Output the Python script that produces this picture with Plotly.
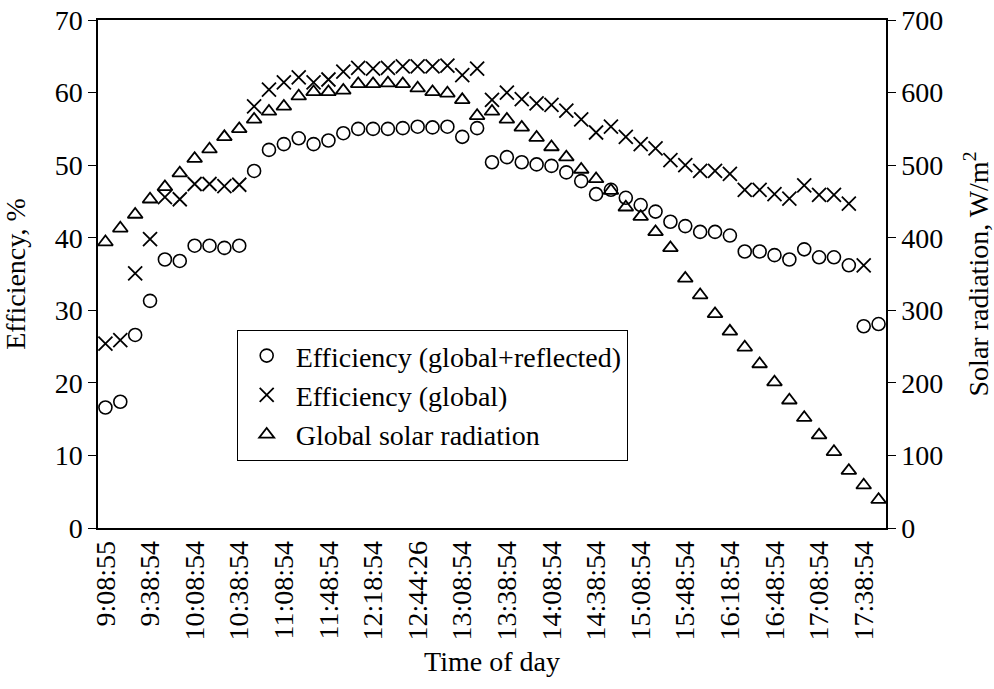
import plotly.graph_objects as go

# Tick labels shown on the category axis (every third sample)
tick_labels = ["9:08:55", "9:38:54", "10:08:54", "10:38:54", "11:08:54", "11:48:54",
               "12:18:54", "12:44:26", "13:08:54", "13:38:54", "14:08:54", "14:38:54",
               "15:08:54", "15:48:54", "16:18:54", "16:48:54", "17:08:54", "17:38:54"]

# Efficiency (global+reflected), %
eff_global_reflected = [16.6, 17.4, 26.6, 31.3, 37.0, 36.8, 38.9, 38.9, 38.6, 38.9,
                        49.2, 52.1, 52.9, 53.7, 52.9, 53.4, 54.4, 55.0, 55.0, 55.0,
                        55.1, 55.3, 55.2, 55.3, 53.9, 55.1, 50.4, 51.1, 50.4, 50.1,
                        49.9, 49.0, 47.8, 46.0, 46.6, 45.5, 44.5, 43.6, 42.2, 41.6,
                        40.8, 40.8, 40.3, 38.1, 38.1, 37.6, 37.0, 38.4, 37.3, 37.3,
                        36.2, 27.8, 28.1]

# Efficiency (global), %
eff_global = [25.4, 25.9, 35.1, 39.8, 45.6, 45.3, 47.4, 47.4, 47.1, 47.3,
              58.1, 60.4, 61.4, 62.1, 61.4, 61.8, 62.9, 63.4, 63.3, 63.4,
              63.6, 63.6, 63.6, 63.7, 62.4, 63.3, 59.0, 60.0, 59.1, 58.5,
              58.3, 57.5, 56.3, 54.5, 55.3, 53.9, 52.9, 52.3, 50.7, 50.0,
              49.2, 49.2, 48.8, 46.6, 46.6, 46.0, 45.4, 47.2, 45.9, 45.9,
              44.7, 36.2, None]

# Global solar radiation, W/m2
solar_radiation = [394, 413, 432, 453, 470, 489, 509, 522, 539, 550,
                   563, 574, 581, 595, 601, 601, 603, 612, 612, 613,
                   612, 606, 601, 599, 590, 568, 574, 563, 552, 538,
                   525, 511, 494, 481, 465, 442, 429, 408, 386, 344,
                   321, 295, 271, 249, 226, 201, 176, 152, 128, 105,
                   79, 59, 39]

n = len(solar_radiation)
sample_index = list(range(n))
tick_positions = sample_index[::3]

FONT = "Liberation Serif, Times New Roman, serif"
FS = 28

fig = go.Figure()
fig.add_trace(go.Scatter(
    x=sample_index, y=eff_global_reflected, mode="markers",
    name="Efficiency (global+reflected)",
    marker=dict(symbol="circle-open", size=13, color="black", line=dict(width=1.6, color="black")),
))
fig.add_trace(go.Scatter(
    x=sample_index, y=eff_global, mode="markers",
    name="Efficiency (global)",
    marker=dict(symbol="x-thin-open", size=14, color="black", line=dict(width=1.8, color="black")),
))
fig.add_trace(go.Scatter(
    x=sample_index, y=solar_radiation, mode="markers", yaxis="y2",
    name="Global solar radiation",
    marker=dict(symbol="triangle-up-open", size=13, color="black", line=dict(width=1.8, color="black")),
))

fig.update_layout(
    width=994, height=689,
    margin=dict(l=98, r=108, t=20, b=161, autoexpand=False),
    paper_bgcolor="white", plot_bgcolor="white",
    font=dict(family=FONT, size=FS, color="black"),
    showlegend=True,
    legend=dict(
        x=0.176, y=0.39, xanchor="left", yanchor="top",
        bgcolor="white", bordercolor="black", borderwidth=1,
        font=dict(family=FONT, size=28, color="black"),
        tracegroupgap=0, itemwidth=48,
    ),
    xaxis=dict(
        range=[-0.5, n - 0.5], automargin=False,
        tickmode="array", tickvals=tick_positions, ticktext=tick_labels,
        tickangle=-90, ticks="", showgrid=False, zeroline=False,
        showline=True, linecolor="black", linewidth=1.5, mirror=True,
        ticklabeloverflow="allow",
        title=dict(text="Time of day", font=dict(family=FONT, size=FS), standoff=12),
        tickfont=dict(family=FONT, size=FS),
    ),
    yaxis=dict(
        range=[0, 70], dtick=10, ticks="outside", ticklen=8, tickcolor="black",
        automargin=False, ticklabeloverflow="allow",
        showgrid=False, zeroline=False, showline=True, linecolor="black", linewidth=1.5,
        title=dict(text="Efficiency, %", font=dict(family=FONT, size=FS), standoff=28),
        tickfont=dict(family=FONT, size=FS),
    ),
    yaxis2=dict(
        range=[0, 700], dtick=100, overlaying="y", side="right",
        ticks="outside", ticklen=8, tickcolor="black", automargin=False,
        ticklabeloverflow="allow",
        showgrid=False, zeroline=False, showline=True, linecolor="black", linewidth=1.5,
        title=dict(text="Solar radiation, W/m<sup>2</sup>", font=dict(family=FONT, size=FS), standoff=28),
        tickfont=dict(family=FONT, size=FS),
    ),
)

fig.write_html("out.html", config={"displayModeBar": False},
               post_script="document.body.style.margin='0';")
